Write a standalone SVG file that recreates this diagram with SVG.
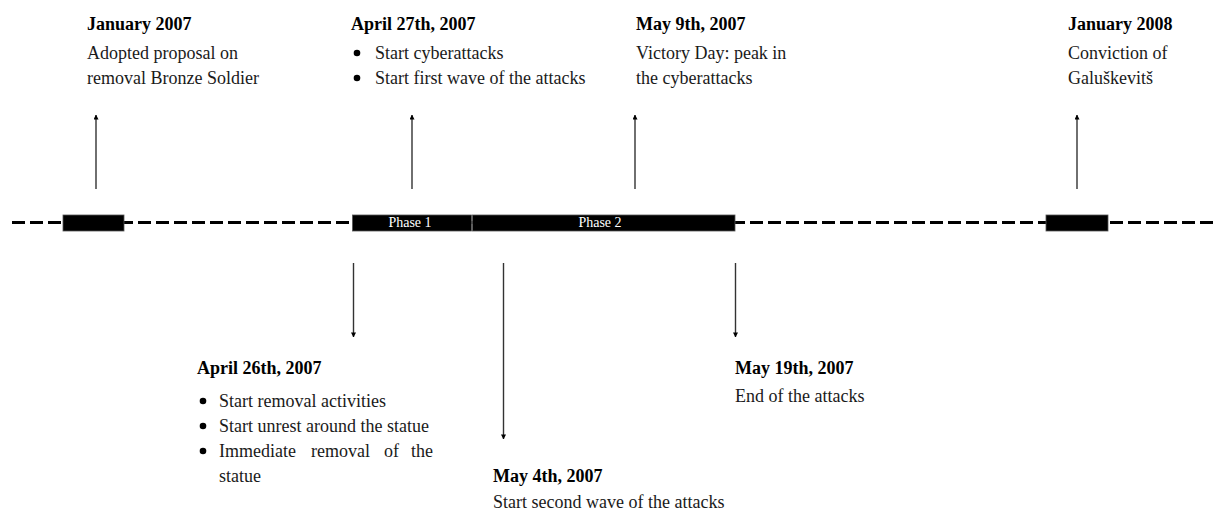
<svg xmlns="http://www.w3.org/2000/svg" width="1215" height="513" viewBox="0 0 1215 513">
<style>
text{font-family:"Liberation Serif","Times New Roman",serif;font-size:18px;fill:#1a1a1a}
.h{font-weight:bold;fill:#000}
.ph{font-size:14px;fill:#fff;text-anchor:middle}
.bul{fill:#000}
.box{fill:#000;stroke:#555;stroke-width:0.8}
.arr{stroke:#333;stroke-width:1.4;fill:none;marker-end:url(#ah)}
.tl{stroke:#000;stroke-width:3;stroke-dasharray:13 5;fill:none}
</style>
<defs>
<marker id="ah" viewBox="0 0 6 6" refX="5.5" refY="3" markerWidth="5" markerHeight="5" markerUnits="userSpaceOnUse" orient="auto">
<path d="M0,0 L6,3 L0,6 z" fill="#000"/>
</marker>
</defs>
<rect width="1215" height="513" fill="#fff"/>
<g id="timeline">
<line class="tl" x1="12" y1="222.5" x2="1215" y2="222.5"/>
<rect class="box" x="63" y="215" width="61" height="16"/>
<rect class="box" x="352.5" y="215" width="119" height="16"/>
<rect class="box" x="472.5" y="215" width="262.5" height="16"/>
<rect class="box" x="1046" y="215" width="62" height="16"/>
<text class="ph" x="410" y="227">Phase 1</text>
<text class="ph" x="600" y="227">Phase 2</text>
</g>
<g id="connectors">
<line class="arr" x1="96" y1="189" x2="96" y2="115"/>
<line class="arr" x1="412" y1="189" x2="412" y2="115"/>
<line class="arr" x1="635" y1="189" x2="635" y2="115"/>
<line class="arr" x1="1077" y1="189" x2="1077" y2="115"/>
<line class="arr" x1="353.5" y1="263" x2="353.5" y2="337"/>
<line class="arr" x1="503.5" y1="263" x2="503.5" y2="439"/>
<line class="arr" x1="735.5" y1="263" x2="735.5" y2="337"/>
</g>
<g id="jan2007">
<text class="h" x="87" y="30">January 2007</text>
<text x="87" y="59">Adopted proposal on</text>
<text x="87" y="84">removal Bronze Soldier</text>
</g>
<g id="apr27">
<text class="h" x="351" y="30">April 27th, 2007</text>
<circle class="bul" cx="357" cy="53" r="3.3"/>
<text x="375" y="59">Start cyberattacks</text>
<circle class="bul" cx="357" cy="78" r="3.3"/>
<text x="375" y="84">Start first wave of the attacks</text>
</g>
<g id="may9">
<text class="h" x="636" y="30">May 9th, 2007</text>
<text x="636" y="59">Victory Day: peak in</text>
<text x="636" y="84">the cyberattacks</text>
</g>
<g id="jan2008">
<text class="h" x="1068" y="30">January 2008</text>
<text x="1068" y="59">Conviction of</text>
<text x="1068" y="84">Galuškevitš</text>
</g>
<g id="apr26">
<text class="h" x="197" y="374">April 26th, 2007</text>
<circle class="bul" cx="203" cy="401" r="3.3"/>
<text x="219" y="407">Start removal activities</text>
<circle class="bul" cx="203" cy="426" r="3.3"/>
<text x="219" y="432">Start unrest around the statue</text>
<circle class="bul" cx="203" cy="451" r="3.3"/>
<text y="457"><tspan x="219">Immediate</tspan><tspan x="311">removal</tspan><tspan x="384">of</tspan><tspan x="411">the</tspan></text>
<text x="219" y="482">statue</text>
</g>
<g id="may4">
<text class="h" x="493" y="482">May 4th, 2007</text>
<text x="493" y="508">Start second wave of the attacks</text>
</g>
<g id="may19">
<text class="h" x="735" y="374">May 19th, 2007</text>
<text x="735" y="402">End of the attacks</text>
</g>
</svg>
